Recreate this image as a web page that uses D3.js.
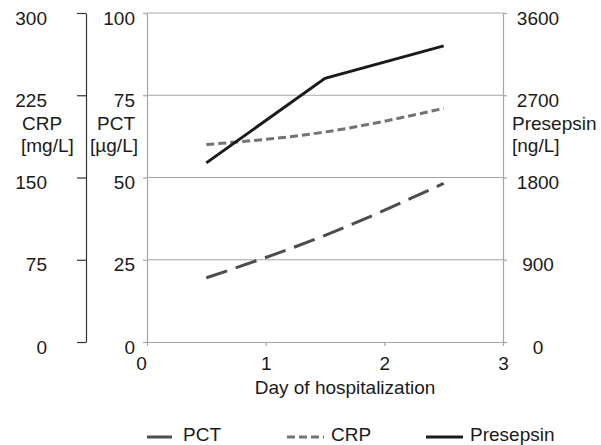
<!DOCTYPE html>
<html>
<head>
<meta charset="utf-8">
<script src="https://cdn.jsdelivr.net/npm/d3@7"></script>
<style>
  body { margin: 0; background: #fff; }
  svg text { font-family: "Liberation Sans", Arial, sans-serif; fill: #1a1a1a; }
</style>
</head>
<body>
<div id="chart"></div>
<script>
// data
const days = [0.5, 1.5, 2.5];
const pct = [19.5, 32.4, 48.2];
const crp = [180, 191.5, 213];
const presepsin = [1960, 2885, 3240];

const xTicks = [0, 1, 2, 3];
const pctTicks = [0, 25, 50, 75, 100];
const crpTicks = [0, 75, 150, 225, 300];
const preTicks = [0, 900, 1800, 2700, 3600];

const seriesNames = ['PCT', 'CRP', 'Presepsin'];

/**
 * layout
 */
const width = 601, height = 445;
const plot = { left: 147, right: 503, top: 13, bottom: 342 };
const fontSize = 19;
const labelShift = 5; // tick labels sit a bit below their ticks

const styles = {
  PCT: { color: '#4d4d4d', dash: '22,9', curve: d3.curveMonotoneX },
  CRP: { color: '#737373', dash: '8,4', curve: d3.curveMonotoneX },
  Presepsin: { color: '#1a1a1a', dash: null, curve: d3.curveLinear }
};
const legendX = [147, 287, 426];
const legendY = 437;

const svg = d3.select('#chart').append('svg')
  .attr('width', width)
  .attr('height', height)
  .style('font-size', fontSize + 'px');

svg.append('rect').attr('width', width).attr('height', height).attr('fill', '#fff');

// scales
const x = d3.scaleLinear().domain([0, 3]).range([plot.left, plot.right]);
const yPct = d3.scaleLinear().domain([0, 100]).range([plot.bottom, plot.top]);
const yCrp = d3.scaleLinear().domain([0, 300]).range([plot.bottom, plot.top]);
const yPre = d3.scaleLinear().domain([0, 3600]).range([plot.bottom, plot.top]);

// gridlines
svg.append('g')
  .selectAll('line')
  .data(pctTicks.slice(1))
  .join('line')
  .attr('x1', plot.left).attr('x2', plot.right)
  .attr('y1', d => yPct(d)).attr('y2', d => yPct(d))
  .attr('stroke', '#a6a6a6').attr('stroke-width', 1);

function styleAxis(g, color) {
  g.select('.domain').attr('stroke', color).attr('stroke-width', 1.2);
  g.selectAll('.tick line').attr('stroke', color).attr('stroke-width', 1.2);
  g.selectAll('.tick text').attr('fill', '#1a1a1a').attr('font-size', fontSize)
    .attr('font-family', '"Liberation Sans", Arial, sans-serif');
}

// PCT axis (left edge of the plot)
const pctAxis = svg.append('g')
  .attr('transform', `translate(${plot.left},0)`)
  .call(d3.axisLeft(yPct).tickValues(pctTicks).tickSizeInner(4).tickSizeOuter(0).tickPadding(8));
styleAxis(pctAxis, '#a6a6a6');
pctAxis.selectAll('.tick text').attr('y', labelShift);

// CRP axis (far left)
const crpAxis = svg.append('g')
  .attr('transform', 'translate(86,0)')
  .call(d3.axisLeft(yCrp).tickValues(crpTicks).tickSizeInner(9).tickSizeOuter(0).tickPadding(30));
styleAxis(crpAxis, '#333');
crpAxis.selectAll('.tick text').attr('y', labelShift);

// Presepsin axis (right)
const preAxis = svg.append('g')
  .attr('transform', `translate(${plot.right},0)`)
  .call(d3.axisRight(yPre).tickValues(preTicks).tickFormat(d3.format('d'))
    .tickSizeInner(4).tickSizeOuter(0).tickPadding(30));
styleAxis(preAxis, '#a6a6a6');
preAxis.selectAll('.tick text').attr('y', labelShift).attr('x', 35).attr('text-anchor', 'middle');

// x axis
const xAxis = svg.append('g')
  .attr('transform', `translate(0,${plot.bottom})`)
  .call(d3.axisBottom(x).tickValues(xTicks).tickFormat(d3.format('d')).tickSizeInner(4).tickSizeOuter(0).tickPadding(11));
styleAxis(xAxis, '#a6a6a6');
xAxis.selectAll('.tick text').filter(d => d === 0).attr('dx', -6);

// axis titles (two lines each)
const titles = svg.append('g');
titles.append('text').attr('x', 22).attr('y', 130).text('CRP');
titles.append('text').attr('x', 21).attr('y', 152).text('[mg/L]');
titles.append('text').attr('x', 135).attr('y', 130).attr('text-anchor', 'end').text('PCT');
titles.append('text').attr('x', 138).attr('y', 152).attr('text-anchor', 'end').text('[µg/L]');
titles.append('text').attr('x', 512).attr('y', 130).text('Presepsin');
titles.append('text').attr('x', 512).attr('y', 152).text('[ng/L]');
titles.append('text').attr('x', 345).attr('y', 394).attr('text-anchor', 'middle').text('Day of hospitalization');

// series
const series = [
  { name: 'PCT', values: pct, y: yPct },
  { name: 'CRP', values: crp, y: yCrp },
  { name: 'Presepsin', values: presepsin, y: yPre }
];

svg.append('g')
  .selectAll('path')
  .data(series)
  .join('path')
  .attr('fill', 'none')
  .attr('stroke', d => styles[d.name].color)
  .attr('stroke-width', 3)
  .attr('stroke-dasharray', d => styles[d.name].dash)
  .attr('d', d => d3.line()
    .curve(styles[d.name].curve)
    .x((v, i) => x(days[i]))
    .y(v => d.y(v))(d.values));

// legend
const legend = svg.append('g')
  .selectAll('g')
  .data(seriesNames)
  .join('g')
  .attr('transform', (d, i) => `translate(${legendX[i]},${legendY})`);

legend.append('line')
  .attr('x1', 0)
  .attr('x2', (d, i) => i === 0 ? 25 : 37)
  .attr('stroke', d => styles[d].color)
  .attr('stroke-width', 3)
  .attr('stroke-dasharray', d => d === 'PCT' ? null : styles[d].dash);

legend.append('text')
  .attr('x', (d, i) => i === 0 ? 36 : 44)
  .attr('y', 4)
  .text(d => d);
</script>
</body>
</html>
